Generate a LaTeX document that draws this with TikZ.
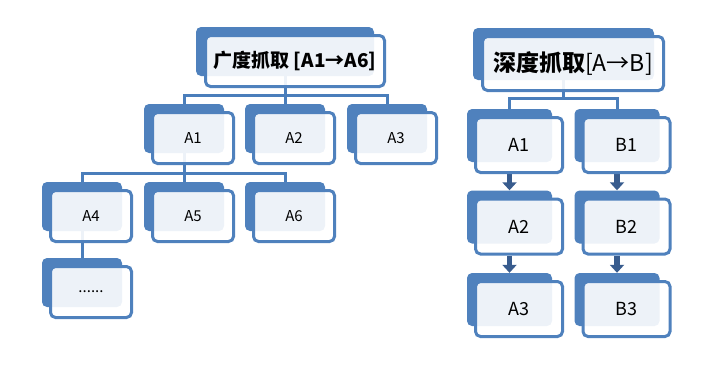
\documentclass[tikz,border=0pt]{standalone}
\usepackage{fontspec}
\setmainfont{Carlito}
\newfontfamily\cjk{Noto Sans CJK SC}
\usetikzlibrary{arrows.meta,calc,backgrounds}
\definecolor{cardblue}{RGB}{79,129,189}
\definecolor{linkblue}{RGB}{74,126,187}
\definecolor{arrowblue}{RGB}{56,92,142}

\begin{document}
\begin{tikzpicture}[x=1pt,y=-1pt,
    back/.style={fill=cardblue,rounded corners=5pt,inner sep=0pt},
    front/.style={draw=cardblue,line width=3pt,fill=white,fill opacity=0.9,text opacity=1,rounded corners=5pt,inner sep=0pt},
    lback/.style={back,minimum width=80pt,minimum height=49pt},
    lfront/.style={front,minimum width=81pt,minimum height=51pt,font=\cjk\fontsize{15}{17}\selectfont},
    rback/.style={back,minimum width=85pt,minimum height=53pt},
    rfront/.style={front,minimum width=87pt,minimum height=55pt,font=\cjk\fontsize{18}{20}\selectfont},
    conn/.style={draw=linkblue,line width=3pt},
    down/.style={draw=arrowblue,line width=5.5pt,-{Triangle[width=14pt,length=8pt]}}]
    \useasboundingbox (0,0) rectangle (717,365);
    % breadth-first tree
    \node[back,minimum width=178pt,minimum height=49pt] (r1b) at (285,51.5) {};
    \node[front,minimum width=179pt,minimum height=51pt,font=\fontsize{19}{21}\selectfont] (r1) at ($(r1b)+(10,9.5)$) {\cjk\bfseries 广度抓取 [A1→A6]};
    \node[lback] (A1b) at (184,128.5) {};
    \node[lfront] (A1) at ($(A1b)+(9,9.5)$) {A1};
    \node[lback] (A2b) at (285,128.5) {};
    \node[lfront] (A2) at ($(A2b)+(9,9.5)$) {A2};
    \node[lback] (A3b) at (387,128.5) {};
    \node[lfront] (A3) at ($(A3b)+(9,9.5)$) {A3};
    \node[lback] (A4b) at (82,206.5) {};
    \node[lfront] (A4) at ($(A4b)+(9,9.5)$) {A4};
    \node[lback] (A5b) at (184,206.5) {};
    \node[lfront] (A5) at ($(A5b)+(9,9.5)$) {A5};
    \node[lback] (A6b) at (285,206.5) {};
    \node[lfront] (A6) at ($(A6b)+(9,9.5)$) {A6};
    \node[lback] (moreb) at (82,282.5) {};
    \node[lfront] (more) at ($(moreb)+(9,9.5)$) {......};
    % depth-first chains
    \node[back,minimum width=181pt,minimum height=52pt] (r2b) at (563.5,54) {};
    \node[front,minimum width=181pt,minimum height=54pt,font=\fontsize{23}{25}\selectfont] (r2) at ($(r2b)+(9.5,9.5)$) {{\cjk\bfseries 深度抓取}{\cjk[A→B]}};
    \node[rback] (Pa1b) at (509.5,135.5) {};
    \node[rfront] (Pa1) at ($(Pa1b)+(9.5,9.5)$) {A1};
    \node[rback] (Pa2b) at (509.5,217) {};
    \node[rfront] (Pa2) at ($(Pa2b)+(9.5,9.5)$) {A2};
    \node[rback] (Pa3b) at (509.5,299.5) {};
    \node[rfront] (Pa3) at ($(Pa3b)+(9.5,9.5)$) {A3};
    \node[rback] (Pb1b) at (617,135.5) {};
    \node[rfront] (Pb1) at ($(Pb1b)+(9.5,9.5)$) {B1};
    \node[rback] (Pb2b) at (617,217) {};
    \node[rfront] (Pb2) at ($(Pb2b)+(9.5,9.5)$) {B2};
    \node[rback] (Pb3b) at (617,299.5) {};
    \node[rfront] (Pb3) at ($(Pb3b)+(9.5,9.5)$) {B3};
    \begin{scope}[on background layer]
      \draw[conn] (r1b.center) -- (A2b.north);
      \draw[conn] (A1b.north) -- ++(0,-8) -| (A3b.north);
      \draw[conn] (A1b.center) -- (A5b.north);
      \draw[conn] (A4b.north) -- ++(0,-8.5) -| (A6b.north);
      \draw[conn] (A4b.center) -- (moreb.north);
      \draw[conn] (Pa1b.north) -- ++(0,-10) coordinate (rbar) -| (Pb1b.north);
      \draw[conn] (r2b.center) -- (r2b |- rbar);
      \draw[down] (Pa1b |- Pa1.south) -- (Pa2b.north);
      \draw[down] (Pa2b |- Pa2.south) -- (Pa3b.north);
      \draw[down] (Pb1b |- Pb1.south) -- (Pb2b.north);
      \draw[down] (Pb2b |- Pb2.south) -- (Pb3b.north);
    \end{scope}
\end{tikzpicture}
\end{document}
